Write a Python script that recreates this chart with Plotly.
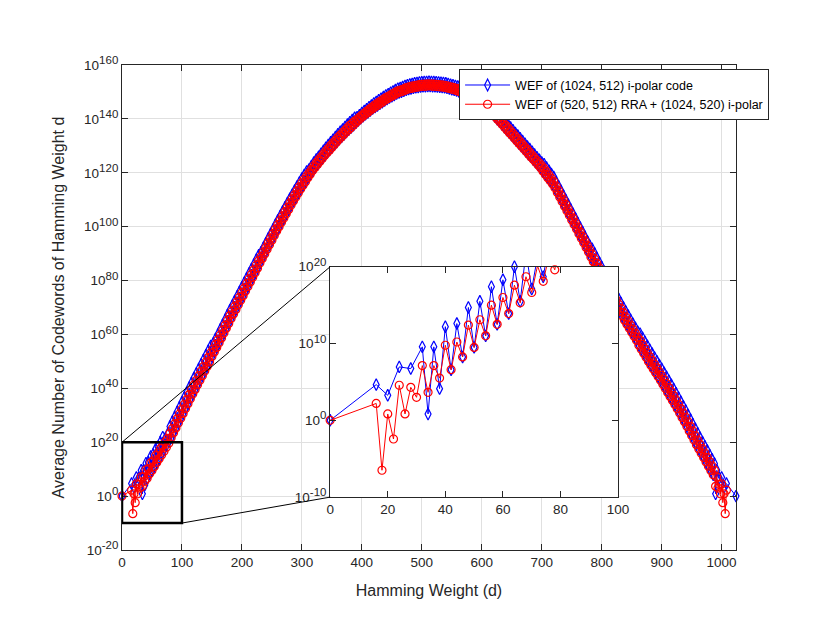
from typing import List
import plotly.graph_objects as go

BLUE: str = '#0000FF'
RED: str = '#FF0000'
AXIS_COLOR: str = '#262626'
GRID_COLOR: str = '#E0E0E0'
FONT: str = 'Liberation Sans, Arial, sans-serif'

BLUE_NAME: str = 'WEF of (1024, 512) i-polar code'
RED_NAME: str = 'WEF of (520, 512) RRA + (1024, 520) i-polar'

# exponents (log10 of the average number of codewords)
BLUE_LOW_D: List[int] = [0, 16, 20, 24, 28, 32, 34, 36, 38, 40, 42, 44, 46, 48, 50,
                         52, 54, 56, 58, 60, 62, 64, 66, 68, 70, 72, 74, 76, 78]
BLUE_LOW_EXP: List[float] = [0.0, 4.65, 3.26, 6.96, 6.74, 9.57, 0.83, 9.57, 4.13, 12.2, 6.6,
                             12.6, 8.26, 14.7, 9.5, 15.5, 11.0, 17.4, 12.5, 18.3, 13.9,
                             20.0, 15.5, 21.9, 17.1, 21.3, 18.7, 23.0, 20.3]

RED_LOW_D: List[int] = [0, 16, 18, 20, 22, 24, 26, 28, 30, 32, 34, 36, 38, 40, 42, 44, 46,
                        48, 50, 52, 54, 56, 58, 60, 62, 64, 66, 68, 70, 72, 74, 76, 78]
RED_LOW_EXP: List[float] = [0.0, 2.2, -6.5, 0.83, -2.43, 4.57, 0.83, 4.3, 3.0, 7.13, 3.65,
                            7.13, 5.5, 9.78, 6.6, 10.2, 8.26, 12.4, 9.5, 13.1, 11.0, 15.0,
                            12.5, 16.0, 13.9, 17.6, 15.3, 18.7, 16.65, 20.1, 18.1, 21.4, 19.6]

# bulk of the curve: weights divisible by 4 (upper teeth) ...
PEAK_D: List[int] = list(range(80, 989, 4))
BLUE_PEAK_EXP: List[float] = [
    25.8, 27.6, 29.4, 31.2, 33.0, 34.8, 36.6, 38.4, 40.2, 42.0, 43.8, 45.5, 47.2, 48.9,
    50.6, 52.3, 54.0, 55.7,
    56.6, 58.3, 60.0, 61.8, 63.6, 65.4, 67.2, 69.0, 70.7, 72.4, 74.1, 75.8, 77.5, 79.2,
    80.9, 82.6, 84.3, 86.0, 87.7, 89.4,
    90.5, 92.2, 93.9, 95.6, 97.3, 99.0, 100.7, 102.4, 104.0, 105.6, 107.2, 108.8, 110.4,
    111.9, 113.4, 114.9, 116.4, 117.9, 119.2, 120.5,
    121.2, 122.5, 123.8, 124.9, 126.0, 127.1, 128.2, 129.3, 130.3, 131.3, 132.3, 133.3,
    134.3, 135.2, 136.1, 137.0, 137.9, 138.8, 139.6, 140.4,
    140.6, 141.4, 142.2, 142.9, 143.6, 144.3, 145.0, 145.7, 146.3, 146.9,
    147.5, 148.1, 148.7, 149.2, 149.7, 150.2, 150.7, 151.2, 151.5, 151.8,
    152.2, 152.5, 152.8, 153.0, 153.2, 153.3, 153.5, 153.6, 153.7, 153.7,
    153.8, 153.7, 153.7, 153.6, 153.5, 153.4, 153.3, 153.2, 153.0, 152.7,
    152.5, 152.2, 152.0, 151.6, 151.2, 150.8, 150.4, 150.0, 149.4, 148.9,
    148.3, 147.8, 147.2, 146.4, 145.6, 144.8, 144.0,
    143.8, 142.8, 141.8, 140.8, 139.8, 138.8, 137.8, 136.8, 135.8, 134.8, 133.8, 132.8,
    131.8, 130.8, 129.8, 128.8, 127.8, 126.8, 125.8, 124.8, 123.8,
    123.2, 122.0, 120.8, 119.6, 118.4, 116.7, 115.0, 113.3, 111.6, 109.9, 108.2, 106.5,
    104.8, 103.1, 101.4, 99.7, 98.0, 96.3, 94.6, 92.9,
    91.8, 90.1, 88.4, 86.7, 85.0, 83.3, 81.6, 79.9, 78.2, 76.5, 74.9, 73.3, 71.7, 70.1,
    68.5, 67.0, 65.5, 64.0, 62.5, 61.0,
    60.3, 58.8, 57.3, 55.8, 54.3, 52.9, 51.5, 50.1, 48.7, 47.3, 45.8, 44.3, 42.8, 41.3,
    39.8, 38.2, 36.6, 35.0, 33.4, 31.8, 30.1, 28.4, 26.7, 25.0, 23.3, 21.7, 20.1, 18.5,
    16.9, 15.3, 13.7, 12.1,
]
RED_PEAK_EXP: List[float] = [
    23.3, 25.1, 26.9, 28.7, 30.5, 32.3, 34.1, 35.9, 37.7, 39.5, 41.3, 43.0, 44.7, 46.4,
    48.1, 49.8, 51.5, 53.2,
    54.6, 56.3, 58.0, 59.8, 61.6, 63.4, 65.2, 67.0, 68.7, 70.4, 72.1, 73.8, 75.5, 77.2,
    78.9, 80.6, 82.3, 84.0, 85.7, 87.4,
    88.9, 90.6, 92.3, 94.0, 95.7, 97.4, 99.1, 100.8, 102.4, 104.0, 105.6, 107.2, 108.8,
    110.3, 111.8, 113.3, 114.8, 116.3, 117.6, 118.9,
    120.0, 121.3, 122.6, 123.7, 124.8, 125.9, 127.0, 128.1, 129.1, 130.1, 131.1, 132.1,
    133.1, 134.0, 134.9, 135.8, 136.7, 137.6, 138.4, 139.2,
    139.8, 140.6, 141.4, 142.1, 142.8, 143.5, 144.2, 144.9, 145.5, 146.1,
    146.7, 147.3, 147.9, 148.4, 148.9, 149.4, 149.9, 150.4, 150.7, 151.0,
    151.4, 151.7, 152.0, 152.2, 152.4, 152.5, 152.7, 152.8, 152.9, 152.9,
    153.0, 152.9, 152.9, 152.8, 152.7, 152.6, 152.5, 152.4, 152.2, 151.9,
    151.7, 151.4, 151.2, 150.8, 150.4, 150.0, 149.6, 149.2, 148.6, 148.1,
    147.5, 147.0, 146.4, 145.6, 144.8, 144.0, 143.2,
    142.6, 141.6, 140.6, 139.6, 138.6, 137.6, 136.6, 135.6, 134.6, 133.6, 132.6, 131.6,
    130.6, 129.6, 128.6, 127.6, 126.6, 125.6, 124.6, 123.6, 122.6,
    121.6, 120.4, 119.2, 118.0, 116.8, 115.1, 113.4, 111.7, 110.0, 108.3, 106.6, 104.9,
    103.2, 101.5, 99.8, 98.1, 96.4, 94.7, 93.0, 91.3,
    89.8, 88.1, 86.4, 84.7, 83.0, 81.3, 79.6, 77.9, 76.2, 74.5, 72.9, 71.3, 69.7, 68.1,
    66.5, 65.0, 63.5, 62.0, 60.5, 59.0,
    57.8, 56.3, 54.8, 53.3, 51.8, 50.4, 49.0, 47.6, 46.2, 44.8, 43.3, 41.8, 40.3, 38.8,
    37.3, 35.7, 34.1, 32.5, 30.9, 29.3, 27.6, 25.9, 24.2, 22.5, 20.8, 19.2, 17.6, 16.0,
    14.4, 12.8, 11.2, 9.6,
]
# ... and weights 2 mod 4 (lower teeth), where both curves coincide
TROUGH_D: List[int] = list(range(82, 987, 4))
TROUGH_EXP: List[float] = [
    21.7, 23.5, 25.3, 27.1, 28.9, 30.7, 32.5, 34.3, 36.1, 37.9, 39.6, 41.3, 43.0, 44.7,
    46.4, 48.1, 49.8,
    51.8, 53.5, 55.2, 56.9, 58.7, 60.5, 62.3, 64.1, 65.9, 67.6, 69.3, 71.0, 72.7, 74.4,
    76.1, 77.8, 79.5, 81.2, 82.9, 84.6,
    86.5, 88.2, 89.9, 91.6, 93.3, 95.0, 96.7, 98.4, 100.0, 101.6, 103.2, 104.8, 106.4,
    108.0, 109.5, 111.0, 112.5, 114.0, 115.4, 116.7,
    118.2, 119.5, 120.8, 122.0, 123.1, 124.2, 125.3, 126.4, 127.4, 128.4, 129.4, 130.4,
    131.4, 132.4, 133.3, 134.2, 135.1, 136.0, 136.8, 137.6,
    138.6, 139.4, 140.2, 141.0, 141.7, 142.4, 143.1, 143.8, 144.4, 145.0,
    145.6, 146.2, 146.8, 147.4, 147.9, 148.4, 148.9, 149.4, 149.8, 150.1,
    150.4, 150.8, 151.1, 151.3, 151.5, 151.7, 151.8, 152.0, 152.1, 152.1,
    152.2, 152.2, 152.1, 152.1, 152.0, 151.9, 151.8, 151.7, 151.5, 151.3,
    151.0, 150.8, 150.5, 150.2, 149.8, 149.4, 149.0, 148.6, 148.1, 147.6,
    147.0, 146.5, 145.9, 145.2, 144.4, 143.6, 142.8,
    141.8, 140.9, 139.9, 138.9, 137.9, 136.9, 135.9, 134.9, 133.9, 132.9, 131.9, 130.9,
    129.9, 128.9, 127.9, 126.9, 125.9, 124.9, 123.9, 122.9, 121.9,
    120.6, 119.4, 118.2, 117.0, 115.8, 114.4, 112.7, 111.0, 109.3, 107.6, 105.9, 104.2,
    102.5, 100.8, 99.1, 97.4, 95.7, 94.0, 92.3, 90.6,
    88.7, 87.0, 85.3, 83.6, 81.9, 80.2, 78.5, 76.8, 75.1, 73.4, 71.7, 70.1, 68.5, 66.9,
    65.3, 63.8, 62.3, 60.8, 59.3, 57.8,
    56.0, 54.5, 53.0, 51.5, 50.0, 48.6, 47.2, 45.8, 44.4, 43.0, 41.5, 40.0, 38.5, 37.0,
    35.5, 34.0, 32.4, 30.8, 29.2, 27.6, 25.9, 24.2, 22.5, 20.8, 19.1, 17.5, 15.9, 14.3,
    12.7, 11.1, 9.5, 7.9,
]

BLUE_HIGH_D: List[int] = [990, 992, 996, 1000, 1004, 1008, 1024]
BLUE_HIGH_EXP: List[float] = [0.83, 9.57, 6.74, 6.96, 3.26, 4.65, 0.0]
RED_HIGH_D: List[int] = [990, 992, 994, 996, 998, 1000, 1002, 1004, 1006, 1008]
RED_HIGH_EXP: List[float] = [3.65, 7.13, 3.0, 4.3, 0.83, 4.57, -2.43, 0.83, -6.5, 2.2]

X_TICKS: List[int] = [0, 100, 200, 300, 400, 500, 600, 700, 800, 900, 1000]
Y_TICK_EXP: List[int] = [-20, 0, 20, 40, 60, 80, 100, 120, 140, 160]
INSET_X_TICKS: List[int] = [0, 20, 40, 60, 80, 100]
INSET_Y_TICK_EXP: List[int] = [-10, 0, 10, 20]

X_RANGE: List[float] = [0, 1024]
Y_RANGE: List[float] = [-20, 160]
INSET_X_RANGE: List[float] = [0, 100]
INSET_Y_RANGE: List[float] = [-10, 20]

INSET_X_DOMAIN: List[float] = [0.339, 0.808]
INSET_Y_DOMAIN: List[float] = [0.109, 0.584]


def power_labels(exps: List[int]) -> List[str]:
    return ['10<sup><span style="font-size:11.5px">%d</span></sup>' % e for e in exps]


def merge(*parts) -> tuple:
    points = sorted(p for d, v in parts for p in zip(d, v))
    return [p[0] for p in points], [10.0 ** p[1] for p in points]


def y_paper(exp: float) -> float:
    return (exp - Y_RANGE[0]) / (Y_RANGE[1] - Y_RANGE[0])


def axis_style(tickvals, ticktext=None) -> dict:
    style = {
        'showline': True,
        'linecolor': AXIS_COLOR,
        'linewidth': 1,
        'mirror': 'ticks',
        'ticks': 'inside',
        'ticklen': 6,
        'tickwidth': 1,
        'tickcolor': AXIS_COLOR,
        'tickmode': 'array',
        'tickvals': tickvals,
        'tickfont': {'size': 13.5, 'color': AXIS_COLOR, 'family': FONT},
        'zeroline': False,
    }
    if ticktext is not None:
        style['ticktext'] = ticktext
    return style


def add_series(fig: go.Figure, xaxis: str, yaxis: str, legend: bool) -> None:
    blue_d, blue_y = merge((BLUE_LOW_D, BLUE_LOW_EXP), (PEAK_D, BLUE_PEAK_EXP),
                           (TROUGH_D, TROUGH_EXP), (BLUE_HIGH_D, BLUE_HIGH_EXP))
    red_d, red_y = merge((RED_LOW_D, RED_LOW_EXP), (PEAK_D, RED_PEAK_EXP),
                         (TROUGH_D, TROUGH_EXP), (RED_HIGH_D, RED_HIGH_EXP))

    fig.add_trace(go.Scatter(
        x=blue_d, y=blue_y, name=BLUE_NAME, mode='lines+markers',
        line={'color': BLUE, 'width': 1},
        marker={'symbol': 'diamond-tall-open', 'size': 8.5, 'color': BLUE,
                'line': {'width': 1.2, 'color': BLUE}},
        cliponaxis=False, showlegend=legend, xaxis=xaxis, yaxis=yaxis))
    fig.add_trace(go.Scatter(
        x=red_d, y=red_y, name=RED_NAME, mode='lines+markers',
        line={'color': RED, 'width': 1},
        marker={'symbol': 'circle-open', 'size': 8, 'color': RED,
                'line': {'width': 1.2, 'color': RED}},
        cliponaxis=False, showlegend=legend, xaxis=xaxis, yaxis=yaxis))


if __name__ == '__main__':
    for name, d, v in [('blue', PEAK_D, BLUE_PEAK_EXP), ('red', PEAK_D, RED_PEAK_EXP),
                       ('trough', TROUGH_D, TROUGH_EXP)]:
        if len(d) != len(v):
            raise ValueError('%s: %d weights, %d values' % (name, len(d), len(v)))

    fig: go.Figure = go.Figure()
    add_series(fig, 'x', 'y', True)
    add_series(fig, 'x2', 'y2', False)

    title_font = {'size': 16, 'color': AXIS_COLOR, 'family': FONT}
    xaxis = axis_style(X_TICKS)
    xaxis.update({'range': X_RANGE, 'showgrid': True, 'gridcolor': GRID_COLOR,
                  'title': {'text': 'Hamming Weight (d)', 'font': title_font}})
    yaxis = axis_style([10.0 ** e for e in Y_TICK_EXP], power_labels(Y_TICK_EXP))
    yaxis.update({'type': 'log', 'range': Y_RANGE, 'showgrid': True, 'gridcolor': GRID_COLOR,
                  'title': {'text': 'Average Number of Codewords of Hamming Weight d',
                            'font': title_font}})
    xaxis2 = axis_style(INSET_X_TICKS)
    xaxis2.update({'range': INSET_X_RANGE, 'showgrid': False, 'domain': INSET_X_DOMAIN,
                   'anchor': 'y2'})
    yaxis2 = axis_style([10.0 ** e for e in INSET_Y_TICK_EXP], power_labels(INSET_Y_TICK_EXP))
    yaxis2.update({'type': 'log', 'range': INSET_Y_RANGE, 'showgrid': False,
                   'domain': INSET_Y_DOMAIN, 'anchor': 'x2'})

    shapes = [
        # zoom window on the main axes
        {'type': 'rect', 'xref': 'x', 'yref': 'paper',
         'x0': INSET_X_RANGE[0], 'x1': INSET_X_RANGE[1],
         'y0': y_paper(INSET_Y_RANGE[0]), 'y1': y_paper(INSET_Y_RANGE[1]),
         'line': {'color': 'black', 'width': 2.5}},
        # connectors to the inset
        {'type': 'line', 'xref': 'paper', 'yref': 'paper',
         'x0': INSET_X_RANGE[0] / X_RANGE[1], 'y0': y_paper(INSET_Y_RANGE[1]),
         'x1': INSET_X_DOMAIN[0], 'y1': INSET_Y_DOMAIN[1],
         'line': {'color': 'black', 'width': 1}},
        {'type': 'line', 'xref': 'paper', 'yref': 'paper',
         'x0': INSET_X_RANGE[1] / X_RANGE[1], 'y0': y_paper(INSET_Y_RANGE[0]),
         'x1': INSET_X_DOMAIN[0], 'y1': INSET_Y_DOMAIN[0],
         'line': {'color': 'black', 'width': 1}},
    ]

    # the page adds an 8px body margin, so the margins are set 8px smaller on the top/left
    fig.update_layout(
        width=830, height=635,
        margin={'l': 114, 'r': 102, 't': 57, 'b': 93},
        paper_bgcolor='white', plot_bgcolor='white',
        font={'family': FONT, 'color': AXIS_COLOR},
        xaxis=xaxis, yaxis=yaxis, xaxis2=xaxis2, yaxis2=yaxis2,
        shapes=shapes,
        legend={'x': 0.549, 'y': 0.991, 'xanchor': 'left', 'yanchor': 'top',
                'bgcolor': 'white', 'bordercolor': AXIS_COLOR, 'borderwidth': 1,
                'font': {'size': 12.5, 'color': 'black', 'family': FONT},
                'itemwidth': 45, 'tracegroupgap': 0},
        showlegend=True,
    )

    fig.write_html('out.html')
